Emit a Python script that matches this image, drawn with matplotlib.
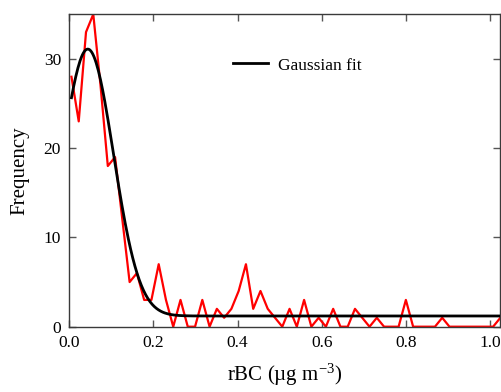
import numpy as np
import matplotlib
matplotlib.use("Agg")
import matplotlib.pyplot as plt

plt.rcParams["font.family"] = ["Liberation Serif", "DejaVu Serif"]
plt.rcParams["mathtext.fontset"] = "custom"
plt.rcParams["mathtext.rm"] = "Liberation Serif"
plt.rcParams["mathtext.it"] = "Liberation Serif:italic"

# histogram of rBC mass concentration
counts = [28, 23, 33, 35, 27, 18, 19, 12, 5, 6, 3, 3, 7, 3, 0, 3, 0, 0, 3, 0,
          2, 1, 2, 4, 7, 2, 4, 2, 1, 0, 2, 0, 3, 0, 1, 0, 2, 0, 0, 2,
          1, 0, 1, 0, 0, 0, 3, 0, 0, 0, 0, 1, 0, 0, 0, 0, 0, 0, 0, 1]
bin_start = 0.0052
bin_width = 0.01728
rbc = bin_start + bin_width * np.arange(len(counts))

# gaussian fit parameters: y0 + A*exp(-((x-xc)/w)^2)
fit_y0 = 1.2
fit_amp = 29.9
fit_xc = 0.044
fit_w = 0.0865

xmax = 1.025
xfit = np.linspace(bin_start, xmax, 400)
yfit = fit_y0 + fit_amp * np.exp(-((xfit - fit_xc) / fit_w) ** 2)

fig = plt.figure(figsize=(5.02, 3.92), dpi=100)
ax = fig.add_axes([0.138, 0.1666, 0.859, 0.797])

ax.plot(rbc, counts, color="red", lw=1.6, zorder=2)
ax.plot(xfit, yfit, color="black", lw=2.0, label="Gaussian fit", zorder=3)

ax.set_xlim(0, xmax)
ax.set_ylim(0, 35)
ax.set_xticks([0.0, 0.2, 0.4, 0.6, 0.8, 1.0])
ax.set_xticklabels(["0.0", "0.2", "0.4", "0.6", "0.8", "1.0"])
ax.set_yticks([0, 10, 20, 30])

for s in ax.spines.values():
    s.set_color("#3a3a3a")
    s.set_linewidth(1.0)
ax.tick_params(direction="in", length=5, width=1.0, color="#555555",
               top=True, right=True, labelsize=12.5, pad=6)

ax.set_xlabel("rBC (\u00b5g m$^{\\mathrm{-3}}$)", fontsize=15, labelpad=8)
ax.set_ylabel("Frequency", fontsize=15, labelpad=10)

ax.legend(loc="upper left", bbox_to_anchor=(0.344, 0.912), frameon=False,
          fontsize=12.5, handlelength=2.0, handletextpad=0.6)

fig.savefig("out.png", dpi=100)
